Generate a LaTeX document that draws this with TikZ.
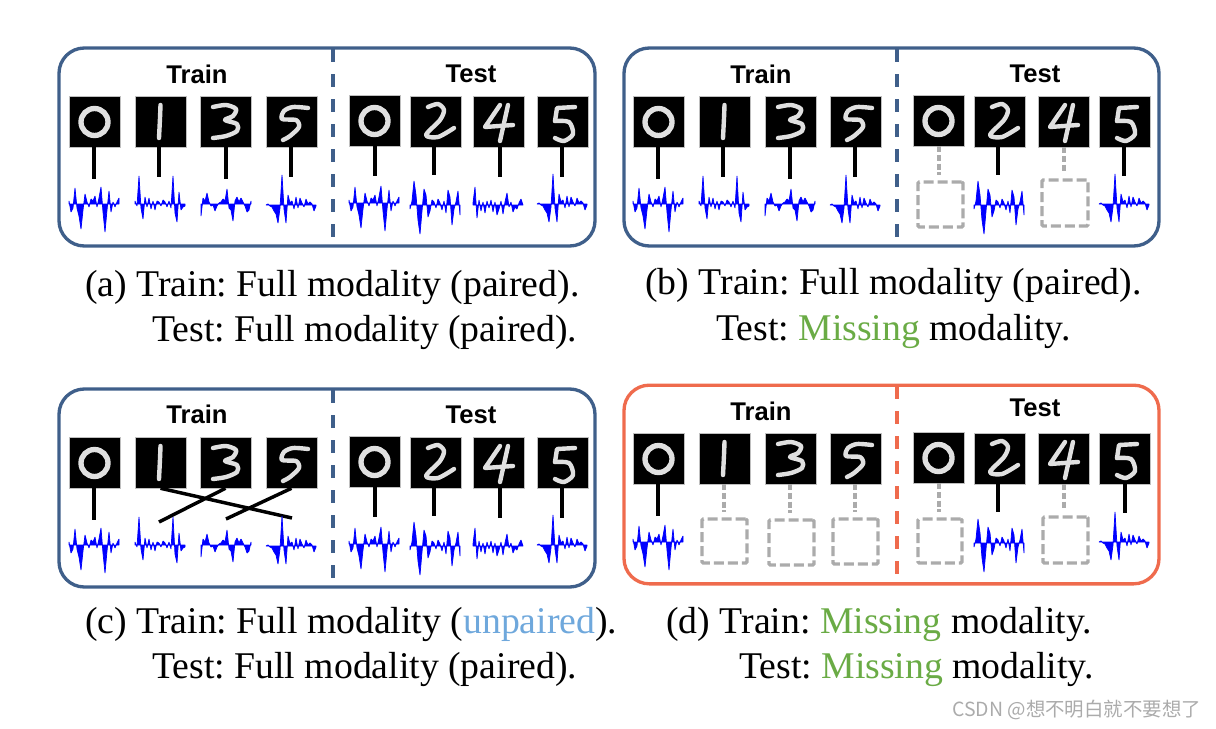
\documentclass[tikz,border=0pt]{standalone}
\usepackage{fontspec}
\setmainfont{Liberation Serif}
\newfontfamily\hv{Liberation Sans}
\newfontfamily\cjk{Noto Sans CJK SC}
\definecolor{bluef}{HTML}{3F5F8A}
\definecolor{redf}{HTML}{EF6B4D}
\definecolor{miss}{HTML}{6AAB45}
\definecolor{unp}{HTML}{6FA8DC}
\definecolor{grayl}{HTML}{ABABAB}
\tikzset{
  frameb/.style={draw=#1,line width=2.5pt,rounded corners=19pt,inner sep=0pt},
  divider/.style={draw=#1,line width=2.4pt,dash pattern=on 9.75pt off 9pt},
  imgbox/.style={fill=black,draw=black!25,line width=.4pt,minimum size=38.25pt,inner sep=0pt},
  stroke/.style={draw=white!88!black,line width=3.3pt,line cap=round,line join=round},
  link/.style={draw=black,line width=2.6pt},
  glink/.style={draw=grayl,line width=2.7pt,dash pattern=on 4.5pt off 2pt},
  missbox/.style={draw=grayl,line width=2.5pt,dash pattern=on 7.5pt off 3pt,inner sep=0pt,rounded corners=1pt},
  wavefill/.style={fill=blue,draw=blue,line width=.55pt,line join=bevel},
  headtext/.style={font=\hv\bfseries\fontsize{19.2}{21}\selectfont,anchor=base},
  captext/.style={font=\frenchspacing\fontsize{28.3}{31}\selectfont,anchor=base west,inner sep=0pt},
}
\newcommand\dZero{\draw[stroke,line width=4pt] (25.5,26) circle (13.5);}
\newcommand\dOne{\draw[stroke] plot[smooth] coordinates {(25.5,9) (25,22) (24,42)};}
\newcommand\dTwo{\draw[stroke] plot[smooth] coordinates {(18,11) (28,8) (34,14) (30,24) (16,39) (28,41) (44,32)};}
\newcommand\dThree{\draw[stroke] plot[smooth] coordinates {(13,11) (26,9) (36,13) (33,20) (25,24) (37,28) (37,35) (26,40) (13,42)};}
\newcommand\dFour{\draw[stroke] plot coordinates {(27,9) (12,31) (40,29)}; \draw[stroke] plot coordinates {(35,9) (27,45)};}
\newcommand\dFive{\draw[stroke] plot[smooth] coordinates {(42,12) (27,11) (18,15) (16,23) (30,24) (33,31) (24,40) (17,44)};}
\newcommand\dFiveB{\draw[stroke] plot coordinates {(38,11) (20,12) (18,25)}; \draw[stroke] plot[smooth] coordinates {(18,25) (32,26) (36,38) (27,45) (18,42)};}
\newcommand\digit[4]{\node[imgbox] (#1) at ({#2+25.5},{#3+25.5}) {};
  \begin{scope}[shift={(#2,#3)}]#4\end{scope}}
\def\wZero{3,-8,-4,16,-4,-12,-25,-6,10,2,-3,5,3,8,-3,6,17,-8,-28,-6,13,-8,2,-3,2,6}
\def\wOne{3,-2,28,-4,-15,7,-3,6,-5,3,-6,3,2,-2,4,2,-3,3,-4,28,-9,-18,12,-6,-3,-2}
\def\wTwo{-4,4,24,10,-15,-29,-6,16,10,-12,-6,5,3,-3,6,2,-5,4,-8,15,8,-20,-4,3,14,-10}
\def\wThree{-12,6,3,11,2,-2,-1,-7,-2,1,2,5,3,15,-4,-6,-17,3,7,2,6,2,-2,-8,-6,3}
\def\wFour{2,18,-13,5,-6,3,-8,4,-3,5,-7,3,-10,-4,4,-9,3,12,-2,3,-7,-2,-4,2,6,0}
\def\wFive{0,1,-1,-2,-6,-9,-18,-3,30,-4,-18,10,2,4,-4,8,-3,7,2,-2,6,1,3,1,-6,-1}
\newcommand\wave[3]{\draw[wavefill] (#1,#2) \foreach \amp [count=\idx] in #3 {-- ({#1+2*(\idx-1)},{#2-\amp})} -- ({#1+50},#2) -- cycle;}
% solid connector: image, x, end y
\newcommand\conn[3]{\coordinate (#1e) at (#2,#3); \draw[link] (#1.south -| #1e) -- (#1e);}
% missing box and dashed connector: image, x0,y0,x1,y1, x
\newcommand\missing[6]{\node[missbox,minimum width={(#4-#2)*.75pt},minimum height={(#5-#3)*.75pt}] (#1m) at ({(#2+#4)/2},{(#3+#5)/2}) {};
  \coordinate (#1x) at (#6,0);
  \draw[glink] (#1.south -| #1x) -- ([yshift=4pt]#1m.north -| #1x);}
\begin{document}
\begin{tikzpicture}[x=.75pt,y=-.75pt]
\useasboundingbox (0,0) rectangle (1216,728);
% frames
\node[frameb=bluef,minimum width=402pt,minimum height=148.5pt] (pa) at (327,147) {};
\node[frameb=bluef,minimum width=401.25pt,minimum height=148.5pt] (pb) at (891.5,147) {};
\node[frameb=bluef,minimum width=402pt,minimum height=148.5pt] (pc) at (327,488) {};
\node[frameb=redf,minimum width=401.25pt,minimum height=149pt] (pd) at (891.5,484.5) {};
\draw[divider=bluef] (333,49) -- (333,238);
\draw[divider=bluef] (897,49) -- (897,238);
\draw[divider=bluef] (333,390) -- (333,579);
\draw[divider=redf] (897,386) -- (897,575);
% headings
\node[headtext] (ta) at (197,83) {Train};
\node[headtext] (tb) at (471,82) {Test};
\node[headtext] (tc) at (761,83) {Train};
\node[headtext] (td) at (1035,82) {Test};
\node[headtext] (te) at (197,423) {Train};
\node[headtext] (tf) at (471,423) {Test};
\node[headtext] (tg) at (761,420) {Train};
\node[headtext] (th) at (1035,416) {Test};
% panel a
\digit{a0}{69}{96}{\dZero}\digit{a1}{135}{96}{\dOne}\digit{a2}{200}{96}{\dThree}\digit{a3}{266}{96}{\dFive}
\digit{a4}{349}{95}{\dZero}\digit{a5}{410}{96}{\dTwo}\digit{a6}{473}{96}{\dFour}\digit{a7}{537}{96}{\dFiveB}
\conn{a0}{94}{179}\conn{a1}{159}{177}\conn{a2}{226}{179}\conn{a3}{291}{177}
\conn{a4}{375}{176}\conn{a5}{434}{175}\conn{a6}{500}{177}\conn{a7}{562}{177}
\wave{69}{204}{\wZero}\wave{135}{204}{\wOne}\wave{201}{204}{\wThree}\wave{266}{205}{\wFive}
\wave{349}{203}{\wZero}\wave{410}{205}{\wTwo}\wave{473}{205}{\wFour}\wave{537}{204}{\wFive}
% panel b
\digit{b0}{633}{96}{\dZero}\digit{b1}{699}{96}{\dOne}\digit{b2}{765}{96}{\dThree}\digit{b3}{830}{96}{\dFive}
\digit{b4}{913}{95}{\dZero}\digit{b5}{974}{96}{\dTwo}\digit{b6}{1038}{96}{\dFour}\digit{b7}{1099}{96}{\dFiveB}
\conn{b0}{658}{179}\conn{b1}{723}{177}\conn{b2}{790}{179}\conn{b3}{855}{177}
\missing{b4}{918}{182}{963}{227}{939}
\conn{b5}{998}{175}
\missing{b6}{1042}{180}{1088}{226}{1064}
\conn{b7}{1124}{176}
\wave{633}{204}{\wZero}\wave{699}{204}{\wOne}\wave{765}{204}{\wThree}\wave{830}{205}{\wFive}
\wave{974}{205}{\wTwo}\wave{1099}{204}{\wFive}
% panel c
\digit{c0}{69}{437}{\dZero}\digit{c1}{135}{437}{\dOne}\digit{c2}{200}{437}{\dThree}\digit{c3}{266}{437}{\dFive}
\digit{c4}{349}{436}{\dZero}\digit{c5}{410}{437}{\dTwo}\digit{c6}{473}{437}{\dFour}\digit{c7}{537}{437}{\dFiveB}
\conn{c0}{94}{520}
\coordinate (c1e) at (292,518);\coordinate (c2e) at (159,522);\coordinate (c3e) at (226,519);
\draw[link] (c1.south) -- (c1e);
\draw[link] (c2.south) -- (c2e);
\draw[link] (c3.south) -- (c3e);
\conn{c4}{375}{517}\conn{c5}{434}{516}\conn{c6}{500}{518}\conn{c7}{562}{518}
\wave{69}{545}{\wZero}\wave{135}{545}{\wOne}\wave{201}{545}{\wThree}\wave{266}{546}{\wFive}
\wave{349}{544}{\wZero}\wave{410}{546}{\wTwo}\wave{473}{546}{\wFour}\wave{537}{545}{\wFive}
% panel d
\digit{d0}{633}{433}{\dZero}\digit{d1}{699}{433}{\dOne}\digit{d2}{765}{433}{\dThree}\digit{d3}{830}{433}{\dFive}
\digit{d4}{913}{432}{\dZero}\digit{d5}{974}{433}{\dTwo}\digit{d6}{1038}{433}{\dFour}\digit{d7}{1099}{433}{\dFiveB}
\conn{d0}{658}{516}
\missing{d1}{702}{519}{747}{563}{724}
\missing{d2}{769}{520}{814}{565}{790}
\missing{d3}{833}{519}{878}{564}{855}
\missing{d4}{918}{519}{962}{563}{939}
\conn{d5}{998}{512}
\missing{d6}{1043}{517}{1088}{563}{1064}
\conn{d7}{1125}{513}
\wave{633}{542}{\wZero}\wave{974}{543}{\wTwo}\wave{1099}{542}{\wFive}
% captions
\node[captext] (ca1) at (85,296) {(a) Train: Full modality (paired).};
\node[captext] (ca2) at (152,341) {Test: Full modality (paired).};
\node[captext] (cb1) at (645,294) {(b) Train: Full modality (paired).};
\node[captext] (cb2) at (716,340) {Test: \textcolor{miss}{Missing} modality.};
\node[captext] (cc1) at (85,633) {(c) Train: Full modality (\textcolor{unp}{unpaired}).};
\node[captext] (cc2) at (152,678) {Test: Full modality (paired).};
\node[captext] (cd1) at (666,633) {(d) Train: \textcolor{miss}{Missing} modality.};
\node[captext] (cd2) at (739,678) {Test: \textcolor{miss}{Missing} modality.};
\node[anchor=base west,inner sep=0pt,text=grayl,font=\cjk\fontsize{14.6}{16}\selectfont] (wm) at (952,716) {CSDN @想不明白就不要想了};
\end{tikzpicture}
\end{document}
